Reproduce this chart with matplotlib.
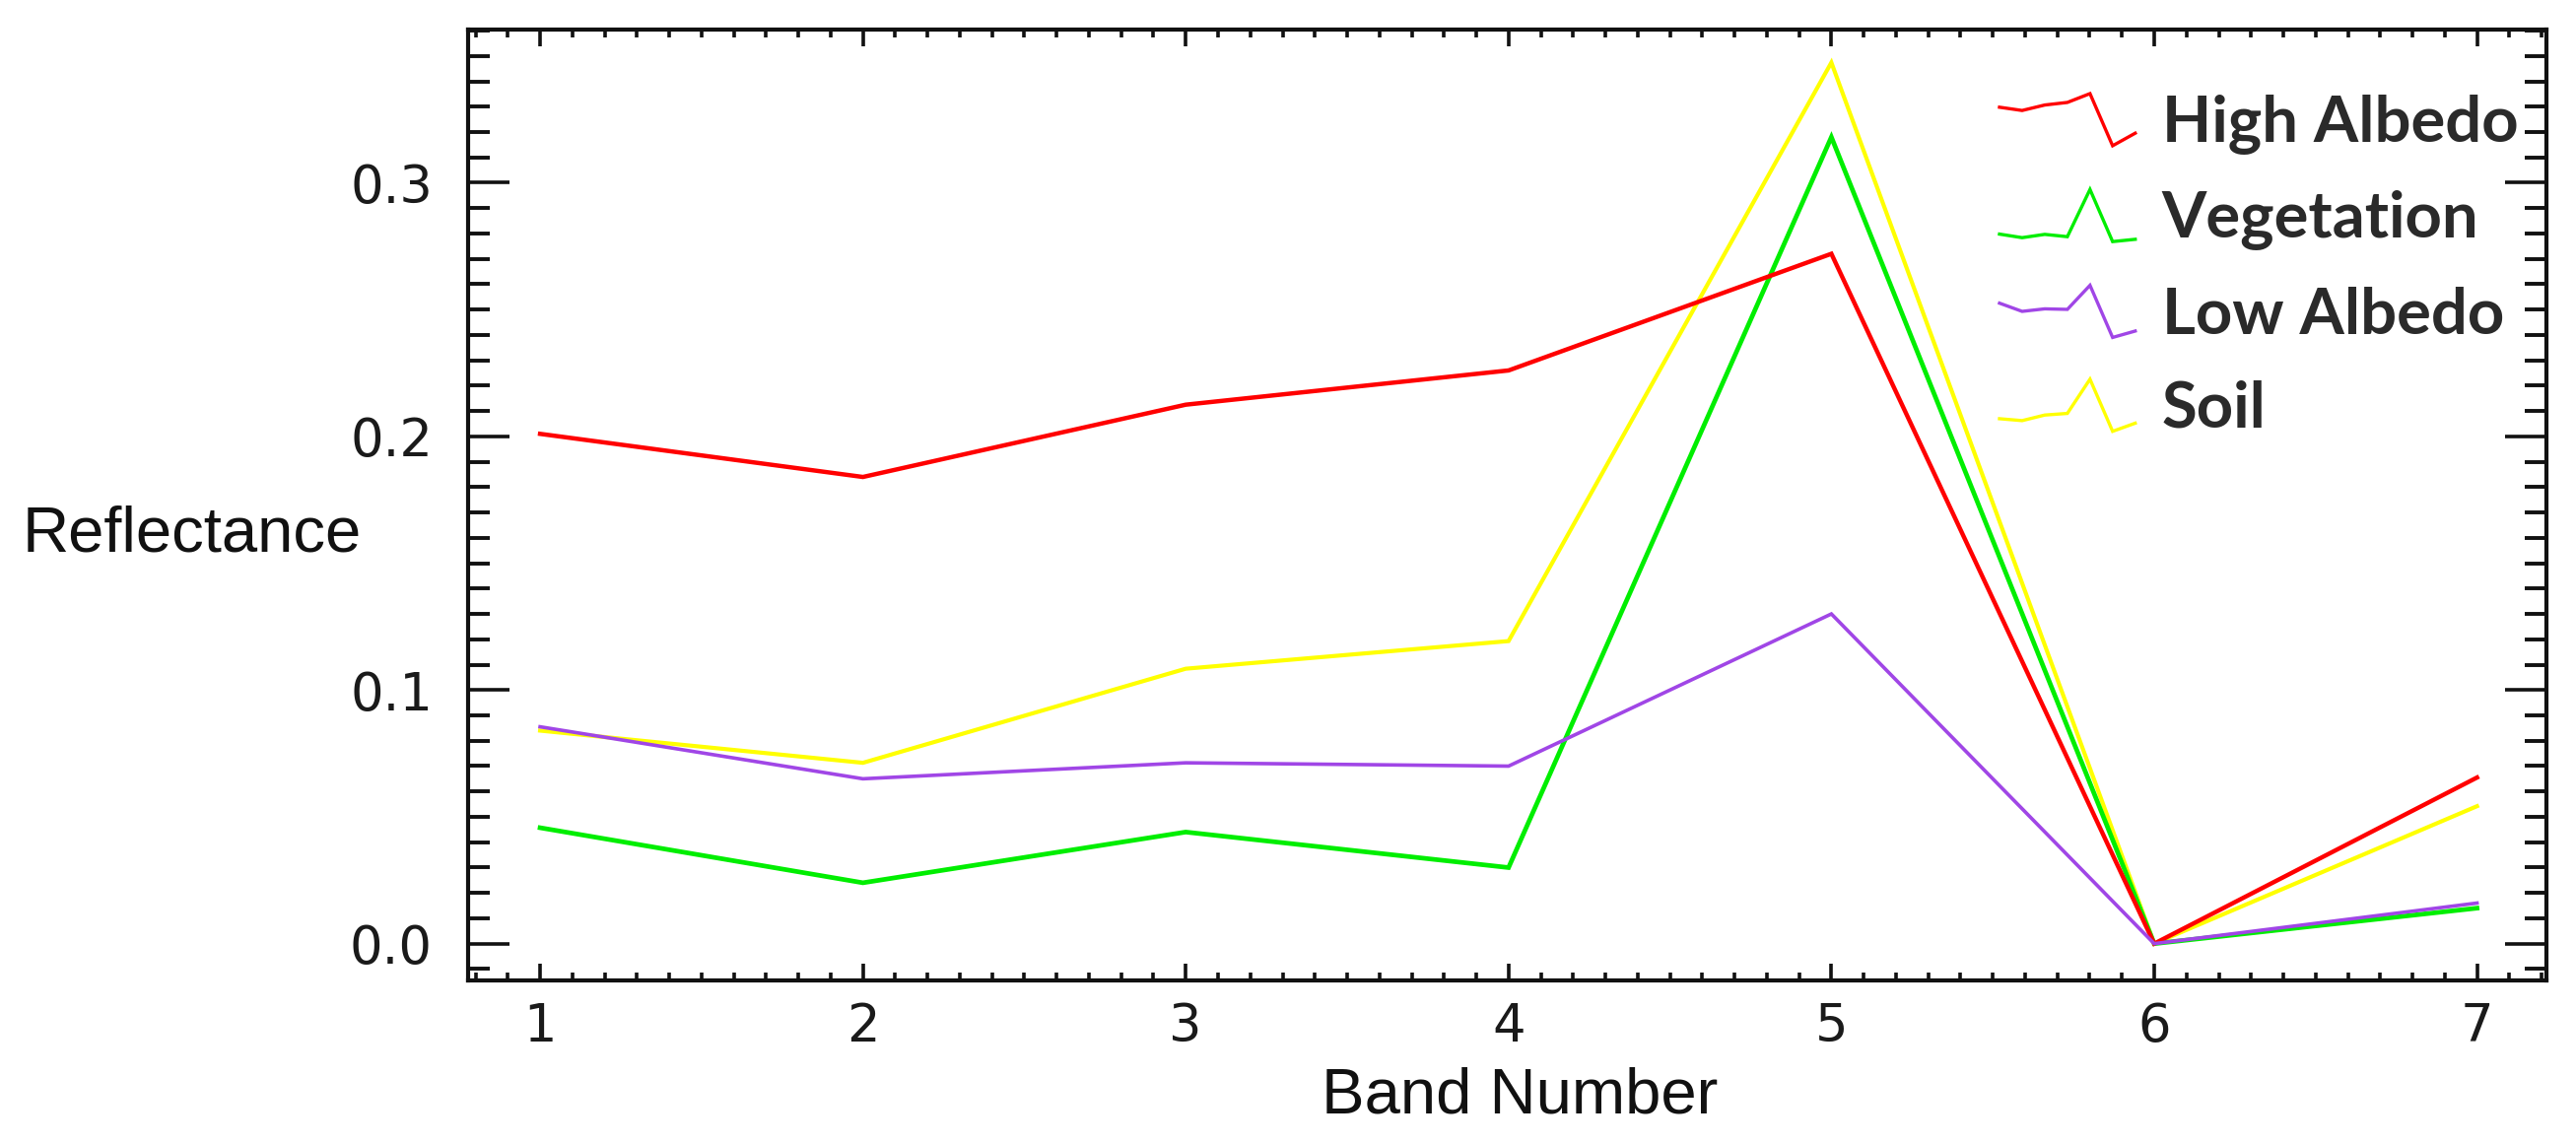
import numpy as np
import matplotlib
matplotlib.use("Agg")
import matplotlib.pyplot as plt
from matplotlib.legend_handler import HandlerBase
from matplotlib.lines import Line2D
from matplotlib.ticker import MultipleLocator
from matplotlib.font_manager import FontProperties

# ---------------- data ----------------
bands = [1, 2, 3, 4, 5, 6, 7]
high_albedo = [0.201, 0.184, 0.2125, 0.226, 0.272, 0.0, 0.0655]
vegetation = [0.0457, 0.024, 0.044, 0.030, 0.318, 0.0, 0.014]
low_albedo = [0.0855, 0.065, 0.0713, 0.070, 0.130, 0.0, 0.016]
soil = [0.084, 0.0713, 0.1084, 0.1193, 0.3474, 0.0, 0.0542]

series_names = ["High Albedo", "Vegetation", "Low Albedo", "Soil"]
series_values = [high_albedo, vegetation, low_albedo, soil]
series_colors = ["#ff0000", "#00ee00", "#a046e6", "#ffff00"]
series_widths = [3.2, 3.4, 2.6, 3.0]
series_z = [4, 3, 5, 2]

x_ticks = [1, 2, 3, 4, 5, 6, 7]
y_ticks = [0.0, 0.1, 0.2, 0.3]
y_tick_labels = ["0.0", "0.1", "0.2", "0.3"]


class SpectrumHandler(HandlerBase):
    """Legend handle drawn as a thumbnail of the series' own spectrum."""

    def __init__(self, values, lw, **kw):
        super().__init__(**kw)
        self.values = np.asarray(values, dtype=float)
        self.lw = lw

    def create_artists(self, legend, orig_handle, xdescent, ydescent,
                       width, height, fontsize, trans):
        v = self.values
        norm = (v - v.min()) / (v.max() - v.min())
        xs = np.linspace(-xdescent, -xdescent + width, len(v))
        ys = -ydescent + norm * height
        ln = Line2D(xs, ys, color=orig_handle.get_color(), lw=self.lw,
                    solid_joinstyle="miter")
        ln.set_transform(trans)
        return [ln]


W, H = 2614, 1161
fig = plt.figure(figsize=(W / 100, H / 100), dpi=100)
ax_left, ax_right, ax_top, ax_bottom = 475, 2584, 30, 995
ax = fig.add_axes([ax_left / W, 1 - ax_bottom / H,
                   (ax_right - ax_left) / W, (ax_bottom - ax_top) / H])

lines = []
for name, vals, col, lw, z in zip(series_names, series_values, series_colors,
                                  series_widths, series_z):
    (ln,) = ax.plot(bands, vals, color=col, lw=lw, zorder=z, label=name,
                    solid_joinstyle="miter")
    lines.append(ln)

ax.set_xlim(0.777, 7.215)
ax.set_ylim(-0.0145, 0.3604)

ax.set_xticks(x_ticks)
ax.set_xticklabels([str(t) for t in x_ticks])
ax.set_yticks(y_ticks)
ax.set_yticklabels(y_tick_labels)
ax.xaxis.set_minor_locator(MultipleLocator(0.1))
ax.yaxis.set_minor_locator(MultipleLocator(0.01))

for s in ax.spines.values():
    s.set_linewidth(3.0)
    s.set_color("#111111")

tick_font = ["DejaVu Sans"]
ax.tick_params(axis="x", which="major", direction="in", top=True, bottom=True,
               length=12, width=2.6, pad=15, labelsize=38, colors="#111111")
ax.tick_params(axis="x", which="minor", direction="in", top=True, bottom=True,
               length=6, width=2.6, colors="#111111")
ax.tick_params(axis="y", which="major", direction="in", left=True, right=True,
               length=30, width=2.6, pad=26, labelsize=38, colors="#111111")
ax.tick_params(axis="y", which="minor", direction="in", left=True, right=True,
               length=16, width=2.8, colors="#111111")
for lab in ax.get_xticklabels() + ax.get_yticklabels():
    lab.set_family(tick_font)
    lab.set_color("#1a1a1a")

label_font = ["Liberation Sans", "DejaVu Sans"]
ax.set_ylabel("Reflectance", rotation=0, ha="left", va="center",
              fontsize=47, family=label_font, color="#111111")
ax.yaxis.set_label_coords((23 - ax_left) / (ax_right - ax_left),
                          1 - (542 - ax_top) / (ax_bottom - ax_top))
ax.set_xlabel("Band Number", ha="center", va="baseline",
              fontsize=47, family=label_font, color="#111111")
ax.xaxis.set_label_coords((1542 - ax_left) / (ax_right - ax_left),
                          -(1129 - ax_bottom) / (ax_bottom - ax_top))

handler_map = {ln: SpectrumHandler(vals, lw=2.4)
               for ln, vals in zip(lines, series_values)}
leg = ax.legend(handles=lines, labels=series_names, handler_map=handler_map,
                loc="upper left", bbox_to_anchor=(2029 / W, 1 - 95 / H),
                bbox_transform=fig.transFigure, frameon=False,
                borderpad=0, borderaxespad=0, handlelength=2.11,
                handleheight=0.87, handletextpad=0.41, labelspacing=0.54,
                prop=FontProperties(family=["Lato", "DejaVu Sans"],
                                    weight="bold", size=47),
                labelcolor="#2a2a2a")
leg.set_zorder(10)

fig.savefig("out.png", dpi=100, facecolor="white")
